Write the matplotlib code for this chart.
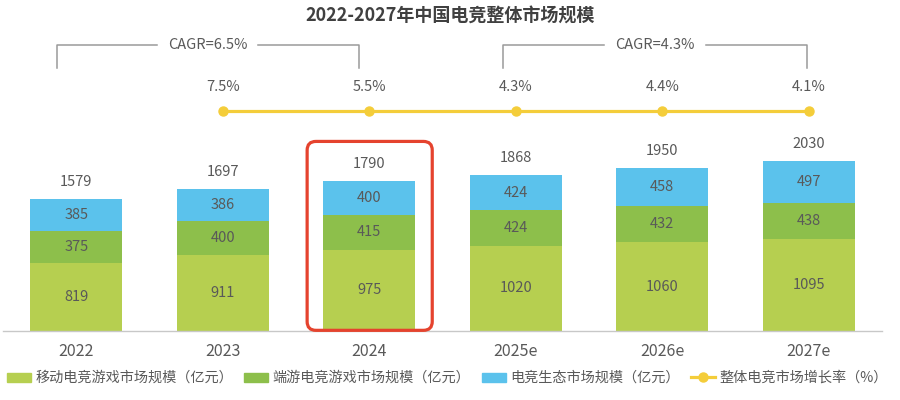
import matplotlib
matplotlib.use("Agg")
import matplotlib.pyplot as plt
from matplotlib.patches import FancyBboxPatch
from matplotlib.lines import Line2D
from matplotlib.patches import Patch

plt.rcParams["font.family"] = ["Noto Sans CJK SC", "DejaVu Sans"]

years = ["2022", "2023", "2024", "2025e", "2026e", "2027e"]
mobile = [819, 911, 975, 1020, 1060, 1095]
client = [375, 400, 415, 424, 432, 438]
ecosystem = [385, 386, 400, 424, 458, 497]
totals = [1579, 1697, 1790, 1868, 1950, 2030]
growth = [7.5, 5.5, 4.3, 4.4, 4.1]
growth_years = [1, 2, 3, 4, 5]
cagr_labels = ["CAGR=6.5%", "CAGR=4.3%"]

c_mobile = "#B6CF50"
c_client = "#8DBF4B"
c_eco = "#5BC2EC"
c_line = "#F4CD3A"
c_text = "#595959"
c_brk = "#9A9A9A"

fig = plt.figure(figsize=(9, 4), dpi=100)
ax = fig.add_axes([3 / 900, 69 / 400, 879 / 900, 331 / 400])
ax.set_xlim(-0.5, 5.5)
ax.set_ylim(0, 3960)

x = list(range(len(years)))
w = 0.63
ax.bar(x, mobile, w, color=c_mobile)
ax.bar(x, client, w, bottom=mobile, color=c_client)
bot3 = [a + b for a, b in zip(mobile, client)]
ax.bar(x, ecosystem, w, bottom=bot3, color=c_eco)

for i in x:
    ax.text(i, mobile[i] / 2, str(mobile[i]), ha="center", va="center", fontsize=10.5, color=c_text)
    ax.text(i, mobile[i] + client[i] / 2, str(client[i]), ha="center", va="center", fontsize=10.5, color=c_text)
    ax.text(i, bot3[i] + ecosystem[i] / 2, str(ecosystem[i]), ha="center", va="center", fontsize=10.5, color=c_text)
    ax.text(i, totals[i] + 120, str(totals[i]), ha="center", va="bottom", fontsize=10.5, color=c_text)

# growth line
line_y = 2632
ax.plot(growth_years, [line_y] * len(growth_years), color=c_line, lw=2.3, marker="o",
        markersize=6.5, zorder=5)
for gx, g in zip(growth_years, growth):
    ax.text(gx, line_y + 290, f"{g}%", ha="center", va="center", fontsize=10.5, color=c_text)

# CAGR brackets
brackets = [(-0.13, 1.93, 0.9, 0.55, 1.24), (2.91, 4.99, 3.95, 3.6, 4.3)]
for (x0, x1, xc, g0, g1), lab in zip(brackets, cagr_labels):
    top, low = 3420, 3150
    ax.plot([x0, x0, g0], [low, top, top], color=c_brk, lw=1.1)
    ax.plot([g1, x1, x1], [top, top, low], color=c_brk, lw=1.1)
    ax.text(xc, top, lab, ha="center", va="center", fontsize=10.5, color=c_text)

# highlight box around 2024
px_x = 1 / 146.6
px_y = 1 / 0.0836
box = FancyBboxPatch((1.576, 8), 2.43 - 1.576, 2260,
                     boxstyle="round,pad=0,rounding_size=0.06",
                     mutation_aspect=px_y / px_x, fill=False,
                     edgecolor="#E5432E", lw=2.3, zorder=6, clip_on=False)
ax.add_patch(box)

ax.set_xticks(x)
ax.set_xticklabels(years, fontsize=11.5, color=c_text)
ax.tick_params(axis="x", length=0, pad=9)
ax.set_yticks([])
for s in ["top", "left", "right"]:
    ax.spines[s].set_visible(False)
ax.spines["bottom"].set_color("#C8C8C8")
ax.spines["bottom"].set_linewidth(1)

fig.text(0.5, 1 - 16 / 400, "2022-2027年中国电竞整体市场规模", ha="center", va="center",
         fontsize=13, fontweight="bold", color="#404040")

handles = [
    Patch(color=c_mobile, label="移动电竞游戏市场规模（亿元）"),
    Patch(color=c_client, label="端游电竞游戏市场规模（亿元）"),
    Patch(color=c_eco, label="电竞生态市场规模（亿元）"),
    Line2D([], [], color=c_line, lw=2.3, marker="o", markersize=6.5, label="整体电竞市场增长率（%）"),
]
leg = fig.legend(handles=handles, loc="center", bbox_to_anchor=(0.497, 22 / 400), ncol=4,
                 frameon=False, fontsize=10.2, handlelength=1.7, handleheight=0.6,
                 columnspacing=0.8, handletextpad=0.3, borderpad=0.2)
for t in leg.get_texts():
    t.set_color(c_text)

fig.savefig("out.png", dpi=100)
